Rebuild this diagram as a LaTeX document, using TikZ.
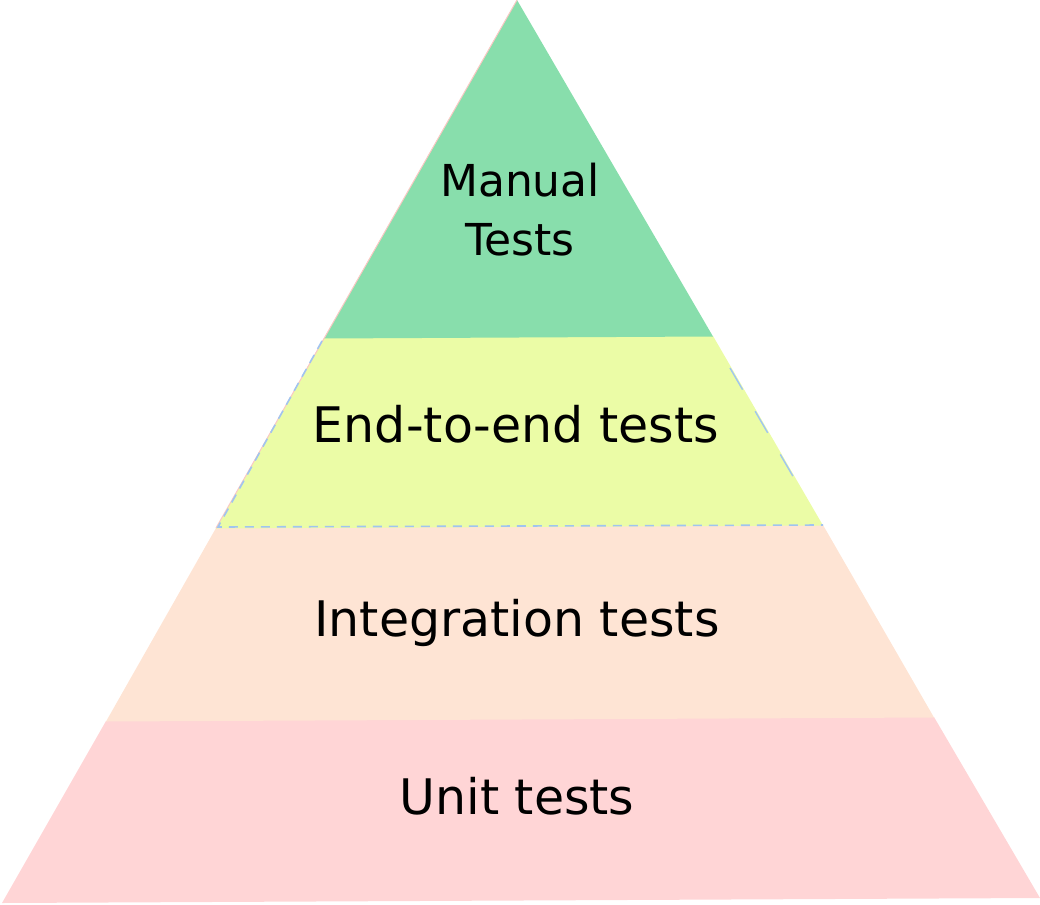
\documentclass[tikz,border=0pt]{standalone}
\usepackage{fontspec}
\setmainfont{DejaVu Sans}
\definecolor{cgreen}{RGB}{136,222,172}
\definecolor{cyellow}{RGB}{235,252,166}
\definecolor{cpeach}{RGB}{254,228,212}
\definecolor{cpink}{RGB}{255,213,214}
\definecolor{cblue}{RGB}{160,196,240}
\definecolor{cedge}{RGB}{250,200,195}
\begin{document}
\begin{tikzpicture}[x=1pt,y=-1pt,
  lbl/.style={font=\fontsize{49}{60}\selectfont, text=black, align=center, inner sep=0pt},
  toplbl/.style={lbl, font=\fontsize{44}{56}\selectfont}]
\useasboundingbox (0,0) rectangle (1040,904);
% layers
\fill[cpink] (106,721) -- (934,717) -- (1040,898) -- (2,903) -- cycle;
\fill[cpeach] (216,528) -- (823,525) -- (934,717.5) -- (106,721.5) -- cycle;
\fill[cyellow] (324,338) -- (713,336) -- (823,525.5) -- (216,528.5) -- cycle;
\fill[cgreen] (517,0) -- (713,336.5) -- (324,338.5) -- cycle;
% faint edge along the left side
\draw[cedge, line width=1pt] (517,0) -- (216,528);
% dashed outline of the yellow band
\draw[cblue, line width=1.6pt, dash pattern=on 9pt off 7pt] (322,341) -- (218,527) -- (823,525);
\draw[cblue, line width=1.4pt, dash pattern=on 25pt off 25pt] (730,368) -- (805,497);
% labels
\node[toplbl] (manual) at (520,180) {Manual};
\node[toplbl] (tests) at (520,240) {Tests};
\node[lbl] (e2e) at (516,424) {End-to-end tests};
\node[lbl] (integ) at (517,623) {Integration tests};
\node[lbl] (unit) at (517,796) {Unit tests};
\end{tikzpicture}
\end{document}
